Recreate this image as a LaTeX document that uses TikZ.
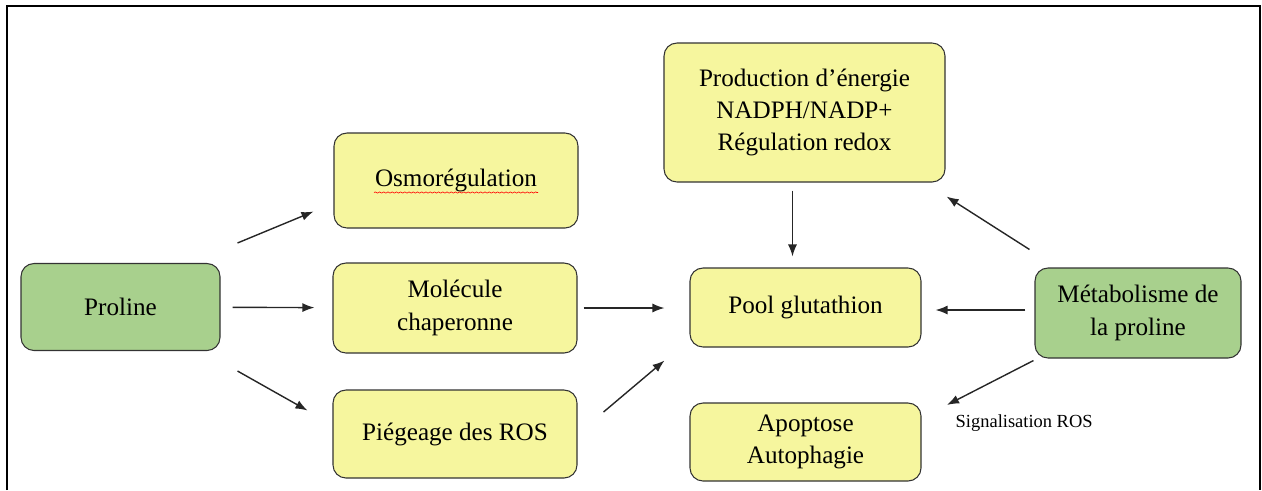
\documentclass[tikz,border=0pt]{standalone}
\usepackage{fontspec}
\setmainfont{Liberation Serif}
\usetikzlibrary{arrows.meta,decorations.pathmorphing}
\definecolor{boxyellow}{RGB}{246,246,158}
\definecolor{boxgreen}{RGB}{168,208,141}
\begin{document}
\begin{tikzpicture}[line width = 0.8pt,
                    yellowbox/.style = {rectangle, rounded corners = 0.26cm, draw = black!80, line width = 0.6pt, fill = boxyellow, align = center, font = \fontsize{14.3}{18.3}\selectfont},
                    greenbox/.style = {yellowbox, fill = boxgreen},
                    arr/.style = {-{Latex[length = 2.4mm, width = 1.8mm]}, black!85}]

\useasboundingbox (0,0) rectangle (25.24,-9.80);
\draw[line width = 1.2pt] (0.14,-9.80) -- (0.14,-0.12) -- (25.20,-0.12) -- (25.20,-9.80);

% left column
\node [greenbox, minimum width = 3.98cm, minimum height = 1.74cm] (proline) at (2.41,-6.14) {Proline};

% middle column
\node [yellowbox, minimum width = 4.88cm, minimum height = 1.90cm] (osmo) at (9.12,-3.61) {Osmorégulation};
\node [yellowbox, minimum width = 4.88cm, minimum height = 1.80cm] (chaperon) at (9.10,-6.16) {Molécule\\chaperonne};
\node [yellowbox, minimum width = 4.88cm, minimum height = 1.76cm] (piegeage) at (9.10,-8.68) {Piégeage des ROS};
\draw[red, line width = 0.35pt, decorate, decoration = {snake, amplitude = 0.35pt, segment length = 2.4pt}]
  ([xshift = -1.64cm, yshift = -0.24cm]osmo.center) -- ([xshift = 1.64cm, yshift = -0.24cm]osmo.center);

% right column
\node [yellowbox, minimum width = 5.62cm, minimum height = 2.78cm] (energie) at (16.09,-2.25) {Production d’énergie\\NADPH/NADP+\\Régulation redox};
\node [yellowbox, minimum width = 4.62cm, minimum height = 1.58cm] (pool) at (16.11,-6.15) {Pool glutathion};
\node [yellowbox, minimum width = 4.62cm, minimum height = 1.56cm] (apoptose) at (16.11,-8.84) {Apoptose\\Autophagie};
\node [greenbox, minimum width = 4.12cm, minimum height = 1.80cm] (metab) at (22.76,-6.26) {Métabolisme de\\la proline};
\node [anchor = west, inner sep = 0pt, font = \fontsize{10.5}{12}\selectfont] (signal) at (19.10,-8.46) {Signalisation ROS};

% arrows from proline
\draw[arr] ([xshift = 0.34cm, yshift = 0.40cm]proline.north east) -- ([xshift = -0.40cm, yshift = 0.34cm]osmo.south west);
\draw[arr, shorten <= 0.24cm, shorten >= 0.36cm] (proline) -- (chaperon);
\draw[arr] ([xshift = 0.34cm, yshift = -0.40cm]proline.south east) -- ([xshift = -0.50cm, yshift = -0.42cm]piegeage.north west);

% arrows into pool
\draw[arr, shorten <= 0.12cm, shorten >= 0.50cm] (chaperon.east) -- (chaperon.east -| pool.west);
\draw[arr] ([xshift = 0.52cm, yshift = 0.44cm]piegeage.east) -- ([xshift = -0.50cm, yshift = -0.26cm]pool.south west);
\draw[arr, shorten <= 0.16cm, shorten >= 0.22cm] ([xshift = -0.24cm]energie.south) -- ([xshift = -0.24cm]energie.south |- pool.north);
\draw[arr, shorten <= 0.18cm, shorten >= 0.28cm] ([yshift = 0.06cm]metab.west) -- ([yshift = 0.06cm]metab.west -| pool.east);

% arrows from metabolism
\draw[arr] ([xshift = -0.10cm, yshift = 0.36cm]metab.north west) -- ([xshift = 0.02cm, yshift = -0.28cm]energie.south east);
\draw[arr] ([xshift = -0.02cm, yshift = -0.04cm]metab.south west) -- ([xshift = -0.16cm, yshift = 0.18cm]signal.north west);
\end{tikzpicture}
\end{document}
